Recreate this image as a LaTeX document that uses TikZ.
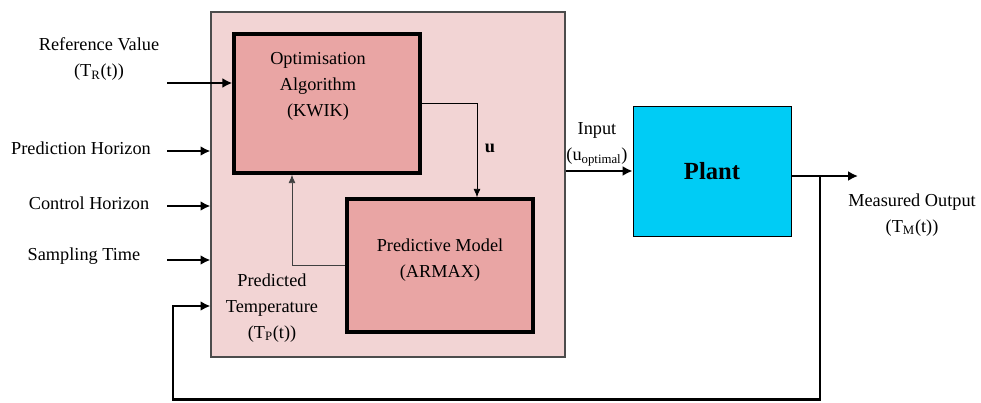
\documentclass[tikz,border=0pt]{standalone}
\usepackage{amsmath}
\usepackage{fontspec}
\setmainfont{Liberation Serif}
\usetikzlibrary{arrows.meta}
\definecolor{outerpink}{RGB}{242,212,212}
\definecolor{blockpink}{RGB}{233,165,164}
\definecolor{plantblue}{RGB}{0,204,245}

\begin{document}
\begin{tikzpicture}[x=0.025cm,y=-0.025cm,
                      every node/.style={font=\rmfamily\fontsize{13}{18.5}\selectfont},
                      lbl/.style={align=center,inner sep=0pt},
                      block/.style={draw=black,line width=2.4pt,fill=blockpink,minimum width=4.65cm},
                      thickarrow/.style={line width=1.8pt,-{Latex[length=7pt,width=7pt]}},
                      thinarrow/.style={line width=0.6pt,-{Latex[length=6pt,width=5pt]}}]
                      \useasboundingbox (0,0) rectangle (981,402);
                      \node (mpc) at (388,184.5) [draw=black!70,line width=0.8pt,fill=outerpink,minimum width=8.85cm,minimum height=8.625cm] {};
                      \node (opt) at (327,103.5) [block,minimum height=3.475cm] {};
                      \node (pred) at (440,265.5) [block,minimum height=3.325cm] {};
                      \node (plant) at (712,171) [draw=black,line width=0.6pt,fill=plantblue,minimum width=3.95cm,minimum height=3.25cm,font=\rmfamily\fontsize{17.5}{20}\selectfont\bfseries] {Plant};
                      \node (optlbl) at (318,86) [lbl] {Optimisation\\Algorithm\\(KWIK)};
                      \node (predlbl) at (440,260) [lbl] {Predictive Model\\(ARMAX)};
                      \node (reflbl) at (99,59) [lbl] {Reference Value\\(T\textsubscript{R}(t))};
                      \node (phlbl) at (81,148) [lbl] {Prediction Horizon};
                      \node (chlbl) at (89,203) [lbl] {Control Horizon};
                      \node (stlbl) at (84,256) [lbl] {Sampling Time};
                      \node (ptlbl) at (272,308) [lbl] {Predicted\\Temperature\\(T\textsubscript{P}(t))};
                      \node (inlbl) at (597,144) [lbl] {Input\\(u\textsubscript{optimal})};
                      \node (molbl) at (912,215) [lbl] {Measured Output\\(T\textsubscript{M}(t))};
                      \node (ulbl) at (490,148) [lbl] {\textbf{u}};
                      \coordinate (rin) at (167,83);
                      \coordinate (phin) at (167,151);
                      \coordinate (chin) at (167,206);
                      \coordinate (stin) at (167,260);
                      \coordinate (pout) at (858,176);
                      \coordinate (fb) at (820,176);
                      \coordinate (fbc) at (173,399.5);
                      \coordinate (fbt) at (173,306);
                      \draw[thickarrow] (rin) -- (rin -| opt.west);
                      \draw[thickarrow] (phin) -- (phin -| mpc.west);
                      \draw[thickarrow] (chin) -- (chin -| mpc.west);
                      \draw[thickarrow] (stin) -- (stin -| mpc.west);
                      \draw[thickarrow] (mpc.east |- plant.west) -- (plant.west);
                      \draw[thickarrow] (plant.east |- pout) -- (pout);
                      \draw[thickarrow] (fb) |- (fbc) -- (fbt) -- (fbt -| mpc.west);
                      \draw[thinarrow] (opt.east) -| ([xshift=0.925cm]pred.north);
                      \draw[thinarrow,black!75] (pred.west) -| ([xshift=-0.875cm]opt.south);
                \end{tikzpicture}
\end{document}
